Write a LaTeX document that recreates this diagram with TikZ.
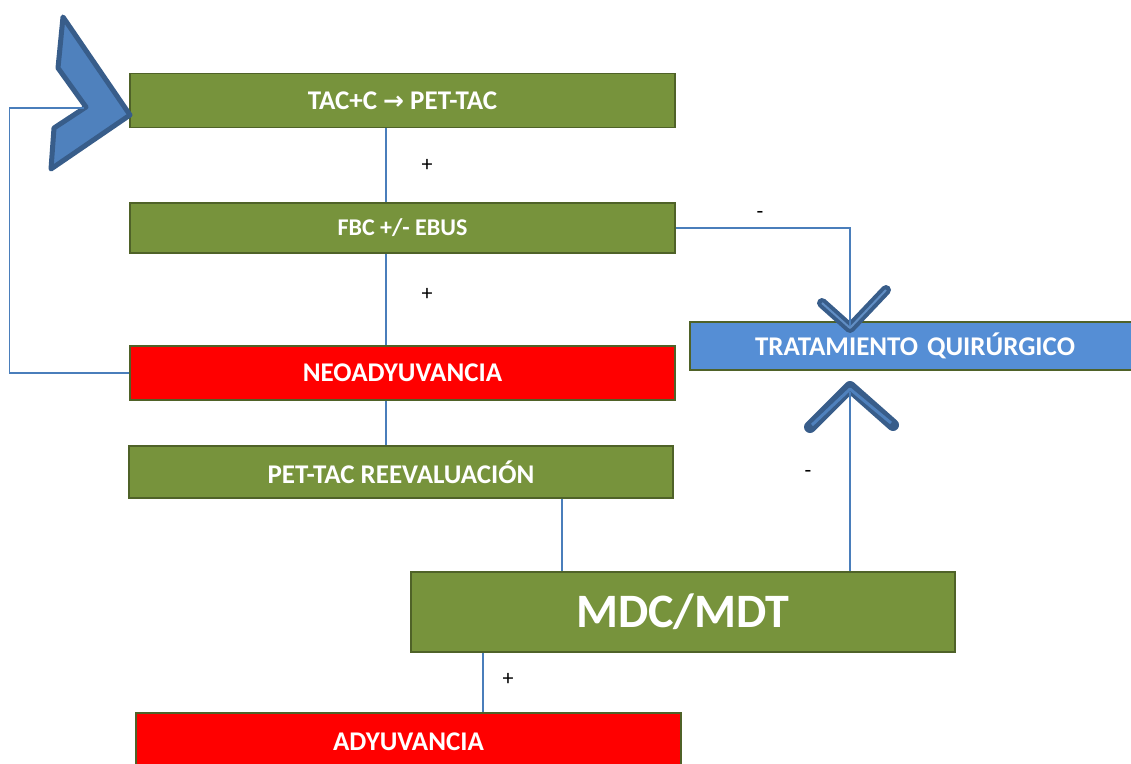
\documentclass[tikz,border=0pt]{standalone}
\usepackage{fontspec}
\setmainfont{Carlito}
\newfontfamily\arrowfont{DejaVu Sans}
\usetikzlibrary{positioning, calc}

\definecolor{boxgreen}{HTML}{77933C}
\definecolor{boxedge}{HTML}{4F6228}
\definecolor{boxblue}{HTML}{558ED5}
\definecolor{linkblue}{HTML}{4A7EBB}
\definecolor{chevfill}{HTML}{4F81BD}
\definecolor{chevedge}{HTML}{385D8A}

\tikzset{
    stage/.style={rectangle, draw=boxedge, line width=1.5pt, fill=boxgreen,
        text=white, font=\fontsize{27}{30}\selectfont\bfseries,
        minimum width=545pt, minimum height=54pt, inner sep=0pt},
    alarm/.style={stage, fill=red},
    surgery/.style={stage, fill=boxblue},
    link/.style={draw=linkblue, line width=1.3pt},
    sign/.style={font=\fontsize{22}{24}\selectfont}
}

\begin{document}
\begin{tikzpicture}[x=1pt, y=-1pt]
    \useasboundingbox (0,0) rectangle (1131,763);

    % Define boxes
    \node[stage] (tac) at (402.5,100.5) {TAC+C {\arrowfont\bfseries\fontsize{25}{28}\selectfont →} PET-TAC};
    \node[stage, minimum height=50pt, font=\fontsize{24}{28}\selectfont\bfseries] (fbc) at (402.5,228) {FBC +/- EBUS};
    \node[alarm] (neo) at (402.5,373) {NEOADYUVANCIA};
    \node[stage, minimum height=52pt, minimum width=544pt] (pet) at (401,472) {PET-TAC REEVALUACIÓN};
    \node[surgery, minimum width=450pt, minimum height=48pt, text width=440pt, align=center] (trat) at (915,346) {TRATAMIENTO QUIRÚRGICO};
    \node[stage, minimum height=80pt, minimum width=544pt, font=\fontsize{48}{52}\selectfont\bfseries] (mdc) at (683,612) {MDC/MDT};
    \node[alarm, minimum height=58pt] (ady) at (408.5,742) {ADYUVANCIA};

    % Define chevrons
    \filldraw[fill=chevfill, draw=chevedge, line width=5pt, line join=round]
        (63,17) -- (130,115) -- (51,169) -- (54,128) -- (86,107) -- (58,68) -- cycle;
    \draw[chevedge, line width=10pt, line cap=round, line join=round]
        (822,303) -- (850,328) -- (886,290);
    \draw[chevfill!90!white, line width=2pt, line join=round]
        (822,303) -- (850,328) -- (886,290);
    \draw[chevedge, line width=12pt, line cap=round, line join=round]
        (810,427) -- (850,387) -- (893,425);
    \draw[chevfill, line width=3pt, line join=round]
        (812,425) -- (850,389) -- (891,423);

    % Define coordinates
    \coordinate (loopin) at (84,108);
    \coordinate (downtip) at (850,326);
    \coordinate (uptip) at (850,392);
    \coordinate (tacout) at ([xshift=-16.5pt]tac.south);
    \coordinate (petout) at ([xshift=161pt]pet.south);
    \coordinate (mdcup) at ([xshift=167pt]mdc.north);
    \coordinate (mdcdown) at ([xshift=-200pt]mdc.south);

    % Define connectors
    \path[link]
    (tacout) -- (tacout |- fbc.north)
        (tacout |- fbc.south) -- (tacout |- neo.north)
    (tacout |- neo.south) -- (tacout |- pet.north)
    (fbc.east) -| (downtip)
    (petout) -- (petout |- mdc.north)
    (mdcup) -- (uptip)
    (mdcdown) -- (mdcdown |- ady.north)
    (neo.west) -- ++(-120,0) |- (loopin);

    % Define signs
    \node[sign] at (427,165) {+};
    \node[sign] at (427,294) {+};
    \node[sign] at (760,215) {-};
    \node[sign] at (808,474) {-};
    \node[sign] at (508,679) {+};
\end{tikzpicture}
\end{document}
